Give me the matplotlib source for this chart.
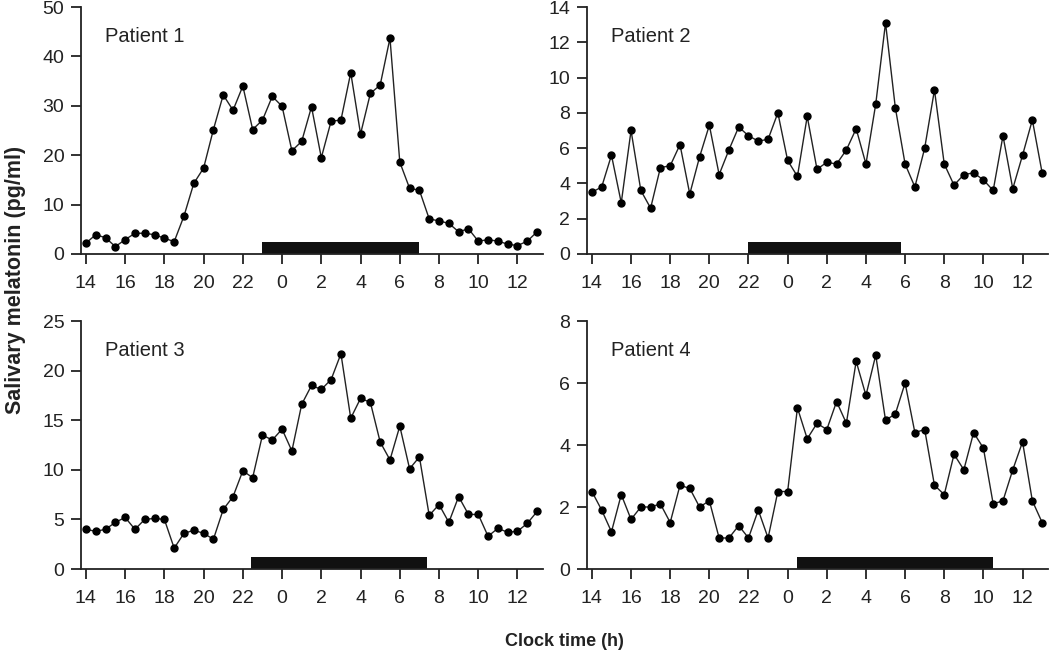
import numpy as np
import matplotlib
matplotlib.use("Agg")
import matplotlib.pyplot as plt

plt.rcParams["font.family"] = ["Liberation Sans", "DejaVu Sans"]

# sampling times: every 30 min from 14:00 to 13:00 next day (hours since midnight day 1)
times = np.arange(14, 37.01, 0.5)

patient1 = [2.2, 3.9, 3.3, 1.5, 2.9, 4.2, 4.2, 3.9, 3.2, 2.5,
            7.7, 14.3, 17.4, 25.2, 32.2, 29.1, 34.0, 25.2, 27.1, 31.9,
            29.9, 20.9, 22.8, 29.8, 19.5, 26.9, 27.1, 36.7, 24.3, 32.5,
            34.2, 43.7, 18.6, 13.3, 12.9, 7.1, 6.7, 6.2, 4.5, 5.1,
            2.6, 2.9, 2.6, 2.0, 1.7, 2.6, 4.5]
patient2 = [3.5, 3.8, 5.6, 2.9, 7.0, 3.6, 2.6, 4.9, 5.0, 6.2,
            3.4, 5.5, 7.3, 4.5, 5.9, 7.2, 6.7, 6.4, 6.5, 8.0,
            5.3, 4.4, 7.8, 4.8, 5.2, 5.1, 5.9, 7.1, 5.1, 8.5,
            13.1, 8.3, 5.1, 3.8, 6.0, 9.3, 5.1, 3.9, 4.5, 4.6,
            4.2, 3.6, 6.7, 3.7, 5.6, 7.6, 4.6]
patient3 = [4.0, 3.8, 4.0, 4.7, 5.2, 4.0, 5.0, 5.1, 5.0, 2.1,
            3.6, 3.9, 3.6, 3.0, 6.0, 7.3, 9.9, 9.2, 13.5, 13.0,
            14.1, 11.9, 16.6, 18.5, 18.1, 19.1, 21.7, 15.2, 17.2, 16.8,
            12.8, 11.0, 14.4, 10.1, 11.3, 5.4, 6.5, 4.7, 7.3, 5.5,
            5.5, 3.3, 4.1, 3.7, 3.8, 4.6, 5.8]
patient4 = [2.5, 1.9, 1.2, 2.4, 1.6, 2.0, 2.0, 2.1, 1.5, 2.7,
            2.6, 2.0, 2.2, 1.0, 1.0, 1.4, 1.0, 1.9, 1.0, 2.5,
            2.5, 5.2, 4.2, 4.7, 4.5, 5.4, 4.7, 6.7, 5.6, 6.9,
            4.8, 5.0, 6.0, 4.4, 4.5, 2.7, 2.4, 3.7, 3.2, 4.4,
            3.9, 2.1, 2.2, 3.2, 4.1, 2.2, 1.5]

series = [patient1, patient2, patient3, patient4]
labels = ["Patient 1", "Patient 2", "Patient 3", "Patient 4"]
y_max = [50, 14, 25, 8]
y_step = [10, 2, 5, 2]
# black bars (sleep period), start / end in hours
bar_start = [23.0, 22.0, 22.4, 24.5]
bar_end = [31.0, 29.8, 31.4, 34.5]

tick_hours = np.arange(14, 37, 2)
tick_labels = [str(int(h % 24)) for h in tick_hours]

fig = plt.figure(figsize=(10.5, 6.53), dpi=100)
W, H = 1050, 653
boxes = [(81, 7, 543, 254), (587, 7, 1048, 254),
         (81, 321, 543, 569), (587, 321, 1048, 569)]

for i in range(4):
    l, t, r, b = boxes[i]
    ax = fig.add_axes([l / W, 1 - b / H, (r - l) / W, (b - t) / H])
    ax.plot(times, series[i], color="#222222", lw=1.0, marker="o",
            markersize=5, markerfacecolor="black", markeredgecolor="black",
            clip_on=False, zorder=3)
    ax.axvspan(bar_start[i], bar_end[i], ymin=0, ymax=0.047,
               color="#111111", lw=0, zorder=2)
    ax.set_xlim(13.75, 37.3)
    ax.set_ylim(0, y_max[i])
    ax.set_yticks(np.arange(0, y_max[i] + 0.1, y_step[i]))
    ax.set_xticks(tick_hours)
    ax.set_xticklabels(tick_labels)
    for s in ["top", "right"]:
        ax.spines[s].set_visible(False)
    for s in ["left", "bottom"]:
        ax.spines[s].set_linewidth(1.3)
        ax.spines[s].set_color("#222222")
    ax.tick_params(axis="both", direction="out", length=7, width=1.3,
                   color="#222222", labelsize=14, labelcolor="#222222")
    ax.tick_params(axis="x", pad=8)
    ax.tick_params(axis="y", pad=5)
    ax.text(0.052, 0.88, labels[i], transform=ax.transAxes, fontsize=14.5,
            color="#222222", va="center", ha="left")

fig.text(16 / W, 1 - 280 / H, "Salivary melatonin (pg/ml)", rotation=90,
         ha="center", va="center", fontsize=15.5, fontweight="bold",
         color="#222222")
fig.text(564 / W, 1 - 641 / H, "Clock time (h)", ha="center", va="center",
         fontsize=13, fontweight="bold",
         family=["Liberation Sans Narrow", "Liberation Sans"], color="#222222")

fig.savefig("out.png", dpi=100)
